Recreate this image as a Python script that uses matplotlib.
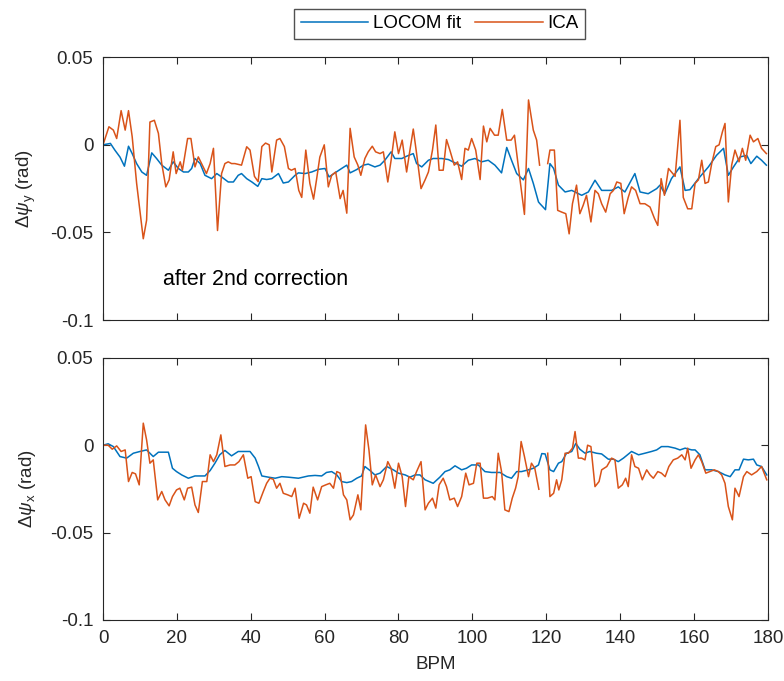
import numpy as np
import matplotlib
matplotlib.use("Agg")
import matplotlib.pyplot as plt

plt.rcParams['font.family'] = ['Liberation Sans', 'DejaVu Sans']
plt.rcParams['mathtext.fontset'] = 'custom'
plt.rcParams['mathtext.rm'] = 'Liberation Sans'
plt.rcParams['mathtext.it'] = 'Liberation Sans:italic'

nan = np.nan

# --- vertical plane (psi_y) ---
bpm_fit_y = [0, 2.0, 3.2, 4.6, 5.8, 6.9, 7.9, 9.1, 10.5, 11.8, 13.2, 14.5, 15.9, 17.7, 19.0, 20.4,
             21.8, 23.1, 24.0, 24.9, 26.3, 27.6, 29.4, 30.8, 32.1, 33.9, 35.3, 36.6, 37.5, 38.9,
             40.3, 41.9, 43.0, 44.3, 45.7, 47.5, 48.8, 50.2, 52.0, 52.9, 54.7, 56.5, 58.3, 60.1,
             61.2, 62.8, 64.6, 66.0, 66.9, 68.7, 70.5, 71.8, 73.6, 75.0, 76.3, 78.0, 79.0, 80.9,
             82.2, 84.0, 84.9, 86.3, 88.1, 89.4, 91.7, 93.5, 95.3, 97.1, 98.9, 100.7, 102.5, 104.3,
             106.1, 107.9, 109.3, 110.6, 112.0, 113.8, 115.2, 116.5, 117.9, 118.3, 119.8, 121.0,
             122.0, 123.3, 125.1, 126.9, 129.6, 131.4, 133.2, 135.0, 137.7, 139.5, 141.3, 144.0,
             145.4, 147.6, 149.9, 150.8, 152.1, 153.9, 156.2, 157.6, 158.9, 161.2, 163.9, 166.1,
             168.0, 169.3, 170.7, 172.5, 174.3, 175.4, 177.0, 178.3, 179.6]
fit_y = [0.0, 0.0008, -0.003, -0.007, -0.0122, -0.0008, -0.005, -0.0107, -0.0155, -0.0174, -0.0046,
         -0.0078, -0.0116, -0.0145, -0.0097, -0.0135, -0.0155, -0.0155, -0.0135, -0.0078, -0.0107,
         -0.0174, -0.0193, -0.0164, -0.0183, -0.0212, -0.0212, -0.0174, -0.0164, -0.0193, -0.0212,
         -0.0237, -0.0193, -0.0198, -0.0193, -0.0164, -0.0218, -0.0212, -0.0174, -0.016, -0.0164,
         -0.0155, -0.014, -0.0135, -0.0183, -0.016, -0.0135, -0.0116, -0.016, -0.0141, -0.0116,
         -0.011, -0.0126, -0.0116, -0.0088, -0.004, -0.0078, -0.0078, -0.0065, -0.005, -0.0107,
         -0.0126, -0.0088, -0.0078, -0.0078, -0.0084, -0.0103, -0.0122, -0.0088, -0.0078, -0.0097,
         -0.0088, -0.0116, -0.016, -0.0015, -0.0088, -0.0164, -0.020, -0.0135, -0.022, -0.0326,
         -0.0336, -0.037, -0.0107, -0.0135, -0.023, -0.0269, -0.026, -0.0288, -0.0269, -0.0202,
         -0.026, -0.026, -0.024, -0.0269, -0.0164, -0.0269, -0.0279, -0.025, -0.023, -0.0279,
         -0.0193, -0.0126, -0.026, -0.0256, -0.0193, -0.0126, -0.006, -0.002, -0.0174, -0.0126,
         -0.0069, -0.006, -0.0107, -0.0065, -0.0088, -0.0116]

bpm_ica_y = [0, 1.6, 2.8, 3.7, 4.9, 6.0, 6.9, 7.9, 9.1, 10.9, 11.8, 12.7, 13.9, 15.0, 15.9, 17.0,
             17.9, 19.0, 19.8, 20.9, 21.5, 22.9, 23.8, 24.9, 25.8, 26.9, 28.0, 29.0, 29.9, 31.0,
             32.1, 33.0, 33.9, 34.8, 35.7, 37.5, 38.9, 39.8, 41.0, 42.0, 43.0, 44.0, 45.0, 45.7,
             47.0, 47.9, 49.1, 50.2, 51.0, 52.0, 53.0, 53.8, 54.9, 56.0, 57.0, 57.8, 58.7, 59.9,
             61.0, 61.9, 63.0, 64.2, 65.0, 66.0, 66.9, 68.0, 69.0, 69.8, 70.9, 71.8, 72.9, 73.8,
             75.0, 75.9, 77.1, 78.0, 79.0, 80.0, 81.0, 82.2, 83.1, 84.0, 84.9, 86.1, 87.2, 88.1,
             89.2, 90.1, 91.0, 92.1, 93.0, 93.9, 95.1, 96.0, 97.1, 98.0, 98.9, 99.8, 100.9, 102.1,
             103.0, 103.9, 104.8, 106.0, 107.0, 108.1, 109.3, 110.5, 111.4, 112.4, 114.1, 115.2,
             116.5, 117.4, 118.2, 119.3, 120.4, 121.0, 122.2, 123.1, 124.2, 125.3, 126.2, 127.1,
             128.2, 129.1, 130.0, 130.9, 132.1, 133.2, 134.1, 135.0, 136.1, 137.3, 138.2, 139.1,
             140.2, 141.1, 142.2, 143.1, 144.2, 145.4, 146.7, 148.1, 149.3, 150.2, 151.1, 152.0,
             153.1, 153.9, 154.9, 156.2, 157.1, 158.3, 159.4, 160.3, 161.2, 162.1, 163.0, 163.9,
             164.8, 165.9, 166.8, 167.7, 168.4, 169.3, 170.2, 171.1, 172.2, 173.1, 174.0, 175.2,
             176.1, 177.3, 178.3, 179.6]
ica_y = [0.0, 0.0103, 0.0084, 0.0036, 0.0195, 0.0084, 0.0195, 0.0046, -0.022, -0.0536, -0.043,
         0.013, 0.014, 0.0065, -0.0107, -0.024, -0.020, -0.004, -0.0164, -0.0097, -0.0145, 0.0036,
         0.0036, -0.0126, -0.0069, -0.0116, -0.0164, -0.0107, -0.002, -0.0489, -0.0164, -0.0107,
         -0.0097, -0.0107, -0.0107, -0.0116, -0.0011, -0.003, -0.018, -0.021, -0.001, 0.001, 0.0,
         -0.0155, 0.0027, 0.0036, -0.001, -0.0135, -0.0145, -0.0135, -0.026, -0.030, -0.003,
         -0.022, -0.031, -0.020, -0.007, 0.0, -0.024, -0.0174, -0.0155, -0.0307, -0.026, -0.039,
         0.0094, -0.0069, -0.0116, -0.0174, -0.0078, -0.004, -0.0008, -0.004, -0.005, -0.004,
         -0.0212, -0.0088, 0.0074, -0.005, 0.0027, -0.0155, -0.003, 0.009, -0.005, -0.025, -0.020,
         -0.0155, -0.003, 0.0113, -0.0145, -0.0145, 0.003, -0.003, -0.0116, -0.0097, -0.0198,
         -0.002, -0.003, 0.0036, -0.003, -0.0198, 0.0107, 0.0017, 0.0094, 0.0055, 0.0055, 0.0202,
         0.0027, 0.0027, 0.0055, -0.0116, -0.0397, 0.0256, 0.0084, 0.0027, -0.0116, nan, -0.0107,
         -0.003, -0.003, -0.0374, -0.0384, -0.0393, -0.0508, -0.0336, -0.023, -0.0393, -0.0345,
         -0.0288, -0.044, -0.026, -0.0279, -0.0336, -0.0384, -0.0279, -0.026, -0.0212, -0.022,
         -0.0393, -0.030, -0.024, -0.026, -0.0336, -0.0336, -0.0355, -0.042, -0.046, -0.0193,
         -0.0288, -0.0135, -0.0155, -0.018, 0.014, -0.030, -0.0365, -0.0365, -0.022, -0.020,
         -0.0088, -0.022, -0.0212, -0.0107, -0.001, 0.0, 0.0074, 0.0122, -0.0326, -0.0116, -0.003,
         -0.0097, -0.002, -0.0088, 0.0055, 0.0017, 0.0036, -0.002, -0.005]

# --- horizontal plane (psi_x) ---
bpm_fit_x = [0, 1.4, 2.8, 4.6, 6.4, 8.2, 10.0, 11.8, 13.6, 15.0, 17.7, 18.8, 19.9, 21.3, 23.1, 24.9,
             27.6, 29.0, 30.3, 31.6, 33.0, 34.8, 36.6, 39.8, 41.2, 42.1, 43.0, 44.8, 46.6, 48.4,
             50.2, 52.9, 55.6, 57.4, 59.2, 60.5, 61.9, 63.3, 64.6, 66.0, 67.3, 68.7, 70.0, 70.9,
             72.3, 73.6, 75.0, 76.8, 78.6, 80.0, 81.8, 83.1, 84.5, 85.8, 87.2, 89.4, 91.2, 92.6,
             93.9, 95.3, 97.1, 98.4, 99.8, 101.6, 103.4, 105.2, 107.5, 109.3, 110.6, 112.0, 113.3,
             115.2, 116.5, 117.9, 118.8, 119.7, 121.0, 122.0, 123.3, 124.2, 125.5, 126.9, 128.0,
             129.1, 130.5, 131.8, 133.6, 135.0, 136.8, 138.2, 139.5, 140.9, 143.1, 145.0, 146.7,
             148.5, 149.9, 151.2, 153.0, 154.9, 156.2, 157.6, 159.4, 160.3, 161.6, 163.0, 164.8,
             166.6, 168.4, 169.8, 171.1, 172.2, 173.4, 174.7, 176.1, 177.0, 178.3, 179.7]
fit_x = [0.0, 0.0008, -0.0008, -0.0065, -0.0074, -0.0046, -0.0036, -0.0027, -0.0065, -0.004, -0.004,
         -0.0132, -0.0151, -0.017, -0.0189, -0.0176, -0.0176, -0.0145, -0.0103, -0.0055, -0.003,
         -0.0061, -0.0036, -0.0036, -0.0074, -0.0122, -0.0176, -0.0183, -0.0189, -0.018, -0.0183,
         -0.0189, -0.0176, -0.0173, -0.0176, -0.0156, -0.0151, -0.017, -0.0208, -0.0214, -0.0208,
         -0.0189, -0.0176, -0.0122, -0.0145, -0.017, -0.016, -0.0122, -0.0141, -0.016, -0.017,
         -0.0183, -0.017, -0.017, -0.0198, -0.0218, -0.0183, -0.0151, -0.0141, -0.0118, -0.0141,
         -0.0132, -0.0113, -0.0113, -0.0151, -0.0156, -0.0156, -0.018, -0.0189, -0.0151, -0.0151,
         -0.0141, -0.0132, -0.0113, -0.0048, -0.005, -0.0141, -0.0151, -0.0103, -0.0094, -0.0046,
         -0.0036, 0.001, -0.0023, -0.0046, -0.0036, -0.0046, -0.005, -0.008, -0.008, -0.0094,
         -0.0074, -0.0036, -0.0055, -0.0046, -0.0036, -0.0027, -0.0008, -0.0008, -0.0017, -0.0027,
         -0.0017, -0.0027, -0.0027, -0.0055, -0.0141, -0.0141, -0.0151, -0.017, -0.018, -0.0141,
         -0.0141, -0.008, -0.0084, -0.008, -0.0113, -0.0122, -0.017]

bpm_ica_x = [0, 1.4, 2.5, 3.7, 4.9, 6.0, 6.9, 7.9, 8.8, 9.8, 10.9, 11.8, 12.7, 13.6, 14.8, 15.9, 16.8,
             17.9, 18.8, 19.9, 20.8, 22.0, 22.9, 24.0, 24.9, 25.8, 26.9, 28.1, 29.0, 29.9, 30.8,
             31.9, 33.0, 34.4, 35.7, 36.8, 38.0, 39.2, 40.1, 41.2, 42.2, 43.4, 44.3, 45.2, 46.1,
             47.0, 47.9, 48.8, 50.0, 51.1, 52.0, 53.1, 54.3, 55.1, 56.0, 56.9, 58.1, 59.2, 60.3,
             61.4, 62.4, 63.3, 64.2, 65.1, 66.0, 66.9, 67.8, 69.0, 69.8, 71.1, 72.0, 72.9, 73.8,
             75.0, 75.9, 77.1, 78.0, 79.0, 80.0, 81.0, 81.9, 82.8, 84.0, 84.9, 86.1, 87.2, 88.1,
             89.2, 90.1, 91.0, 92.1, 93.0, 93.9, 95.1, 96.0, 97.1, 98.2, 99.1, 100.3, 101.2, 102.1,
             103.0, 104.1, 105.4, 106.1, 107.0, 107.9, 108.8, 109.9, 110.8, 111.7, 112.4, 113.2,
             114.1, 115.2, 116.0, 116.9, 118.0, 119.2, 120.4, 121.0, 122.0, 122.8, 123.4, 124.2,
             125.1, 126.0, 127.1, 127.8, 128.7, 129.6, 130.5, 131.2, 132.1, 133.2, 134.3, 135.0,
             136.4, 137.7, 138.6, 139.5, 140.6, 141.5, 142.2, 143.1, 144.0, 145.0, 146.0, 147.2,
             148.1, 149.0, 150.2, 151.2, 152.2, 153.2, 154.4, 155.6, 156.7, 157.6, 158.3, 159.2,
             160.3, 161.2, 162.1, 163.2, 164.3, 165.5, 166.6, 167.5, 168.4, 169.3, 170.4, 171.1,
             172.2, 173.4, 174.3, 175.6, 177.0, 178.3, 179.7]
ica_x = [0.0, 0.0, -0.0023, -0.0004, -0.0036, -0.0027, -0.0208, -0.0156, -0.0164, -0.0227, 0.0126,
         0.003, -0.0103, -0.0084, -0.0313, -0.0265, -0.0313, -0.0347, -0.0294, -0.0256, -0.0246,
         -0.0313, -0.0246, -0.024, -0.0342, -0.0385, -0.0208, -0.0208, -0.0055, -0.0094, -0.0055,
         0.0059, -0.0122, -0.0113, -0.0113, -0.0094, -0.0055, -0.0189, -0.018, -0.0323, -0.0332,
         -0.0265, -0.0218, -0.0189, -0.0195, -0.0246, -0.0218, -0.0275, -0.0284, -0.0294, -0.0246,
         -0.0418, -0.0332, -0.0342, -0.0389, -0.024, -0.0313, -0.0237, -0.0227, -0.0218, -0.0246,
         -0.0151, -0.016, -0.0284, -0.0313, -0.0427, -0.0399, -0.0284, -0.037, 0.0116, -0.0027,
         -0.0227, -0.017, -0.0237, -0.0198, -0.0094, -0.0132, -0.0246, -0.0103, -0.018, -0.0351,
         -0.018, -0.0198, -0.0151, -0.0094, -0.037, -0.0332, -0.0303, -0.036, -0.0227, -0.0189,
         -0.0237, -0.0313, -0.0303, -0.0351, -0.0294, -0.016, -0.0227, -0.0218, -0.0103, -0.0103,
         -0.0303, -0.0303, -0.0294, -0.0313, -0.0046, -0.0151, -0.037, -0.038, -0.0303, -0.0246,
         -0.018, 0.0021, -0.0065, -0.018, -0.0103, -0.0132, -0.0252, nan, -0.0046, -0.0294,
         -0.0275, -0.0198, -0.0256, -0.0198, -0.0046, -0.0046, -0.0017, 0.0078, -0.0074, -0.0074,
         -0.0084, 0.0, -0.0008, -0.0237, -0.0208, -0.0141, -0.0122, -0.0074, -0.0084, -0.0246,
         -0.0227, -0.0189, -0.0237, -0.0055, -0.0122, -0.0132, -0.0198, -0.0141, -0.017, -0.0189,
         -0.0151, -0.016, -0.018, -0.0122, -0.0084, -0.0074, -0.0055, -0.0084, -0.0017, -0.0132,
         -0.0084, -0.0055, -0.0094, -0.016, -0.0151, -0.0141, -0.0151, -0.017, -0.0218, -0.0351,
         -0.0427, -0.0246, -0.0294, -0.018, -0.0151, -0.017, -0.0151, -0.0122, -0.0198]

blue = '#0072BD'
orange = '#D95319'
axcol = '#262626'

fig = plt.figure(figsize=(7.84, 6.81), dpi=100)
ax1 = fig.add_axes([0.1314, 0.530, 0.848, 0.386])
ax2 = fig.add_axes([0.1314, 0.0896, 0.848, 0.385])

l1, = ax1.plot(bpm_fit_y, fit_y, color=blue, lw=1.1, label='LOCOM fit')
l2, = ax1.plot(bpm_ica_y, ica_y, color=orange, lw=1.1, label='ICA')
ax2.plot(bpm_fit_x, fit_x, color=blue, lw=1.1)
ax2.plot(bpm_ica_x, ica_x, color=orange, lw=1.1)

for ax in (ax1, ax2):
    ax.set_xlim(0, 180)
    ax.set_ylim(-0.1, 0.05)
    ax.set_xticks(np.arange(0, 181, 20))
    ax.set_yticks([-0.1, -0.05, 0, 0.05])
    ax.set_yticklabels(['-0.1', '-0.05', '0', '0.05'])
    ax.tick_params(direction='in', top=True, right=True, length=5, width=0.8,
                   labelsize=13.5, colors=axcol)
    ax.tick_params(axis='x', pad=7)
    ax.tick_params(axis='y', pad=7)
    for s in ax.spines.values():
        s.set_color(axcol)
        s.set_linewidth(0.8)
    ax.yaxis.set_label_coords(-0.098, 0.5)

ax1.tick_params(labelbottom=False)
ax1.set_ylabel(r'$\Delta\psi_{\rm y}$ (rad)', fontsize=13.5, color=axcol)
ax2.set_ylabel(r'$\Delta\psi_{\rm x}$ (rad)', fontsize=13.5, color=axcol)
ax2.set_xlabel('BPM', fontsize=13.5, color=axcol)
ax2.xaxis.set_label_coords(0.5, -0.138)
ax1.text(16.2, -0.077, 'after 2nd correction', fontsize=15.5, color='black', va='center')

fig.legend(handles=[l1, l2], loc='center', bbox_to_anchor=(0.561, 0.965), ncol=2,
           fontsize=13.5, frameon=True, fancybox=False, edgecolor=axcol,
           handlelength=3.6, columnspacing=0.75, handletextpad=0.25, borderpad=0.35,
           borderaxespad=0)

fig.savefig('out.png', dpi=100, facecolor='white')
